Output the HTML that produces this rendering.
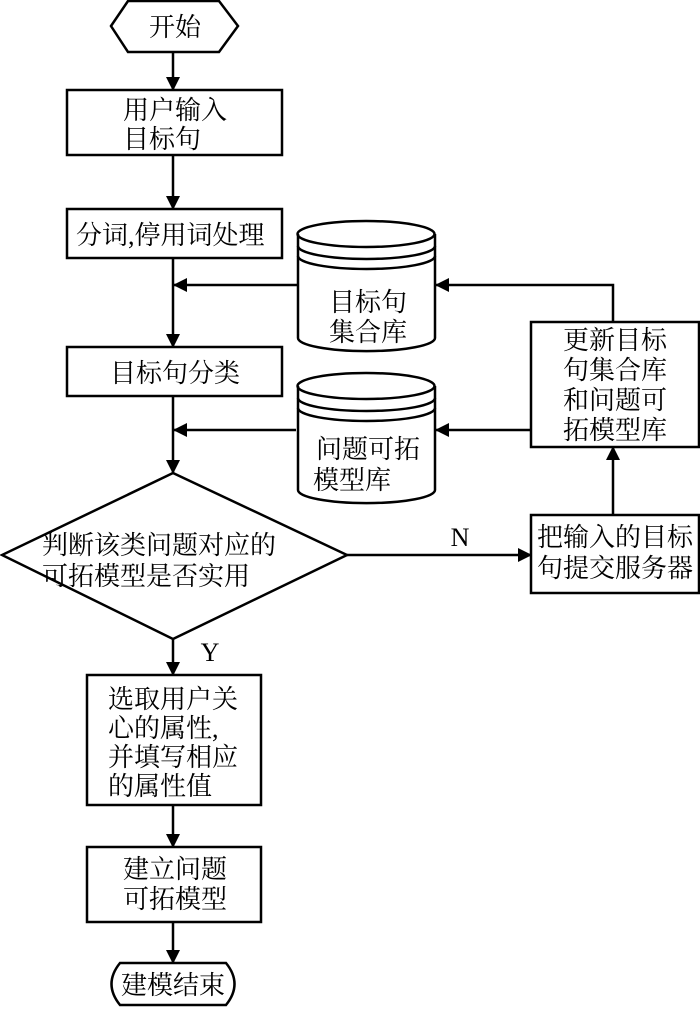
<!DOCTYPE html>
<html><head><meta charset="utf-8"><style>
html,body{margin:0;padding:0;background:#fff}
svg text{font-family:"Liberation Serif","Noto Serif CJK SC",serif;font-size:26px;fill:#000}
</style></head><body>
<svg width="700" height="1010" viewBox="0 0 700 1010" xmlns="http://www.w3.org/2000/svg">
<defs><marker id="a" markerWidth="14" markerHeight="14" refX="13" refY="7" orient="auto" markerUnits="userSpaceOnUse"><path d="M0,0 L14,7 L0,14 z" fill="#000"/></marker></defs>
<g fill="none" stroke="#000" stroke-width="2.5">
<polygon points="111,26 128,1 219,1 238,26 219,52 128,52" fill="#fff"/>
<rect x="67" y="90" width="215" height="65"/>
<rect x="67" y="209" width="215" height="49"/>
<rect x="67" y="347" width="215" height="49"/>
<polygon points="173,473 347,555 173,639 2,555"/>
<rect x="531" y="515" width="168" height="78"/>
<rect x="531" y="322" width="168" height="125"/>
<rect x="87" y="675" width="174" height="130"/>
<rect x="87" y="847" width="174" height="75"/>
<path d="M120,963 L226,963 Q243,984 226,1005 L120,1005 Q103,984 120,963 Z"/>
<path d="M298,234 L298,338 A68,13 0 0 0 435,338 L435,234"/>
<ellipse cx="366" cy="234" rx="68.5" ry="13"/>
<path d="M298,246 A68.5,13 0 0 0 435,246 M298,256 A68.5,13 0 0 0 435,256"/>
<path d="M298,386 L298,490 A68,13 0 0 0 435,490 L435,386"/>
<ellipse cx="366" cy="386" rx="68.5" ry="13"/>
<path d="M298,398 A68.5,13 0 0 0 435,398 M298,408 A68.5,13 0 0 0 435,408"/>
<path d="M173,52 L173,90" marker-end="url(#a)"/>
<path d="M173,155 L173,209" marker-end="url(#a)"/>
<path d="M173,258 L173,347" marker-end="url(#a)"/>
<path d="M173,396 L173,473" marker-end="url(#a)"/>
<path d="M298,285 L174,285" marker-end="url(#a)"/>
<path d="M296,430 L174,430" marker-end="url(#a)"/>
<path d="M347,555 L531,555" marker-end="url(#a)"/>
<path d="M613,515 L613,447" marker-end="url(#a)"/>
<path d="M613,322 L613,285 L436,285" marker-end="url(#a)"/>
<path d="M531,430 L436,430" marker-end="url(#a)"/>
<path d="M173,639 L173,675" marker-end="url(#a)"/>
<path d="M173,805 L173,847" marker-end="url(#a)"/>
<path d="M173,922 L173,963" marker-end="url(#a)"/>
</g>
<text x="175" y="36" text-anchor="middle">开始</text>
<text x="123" y="119">用户输入</text>
<text x="123" y="148">目标句</text>
<text x="76" y="244">分词,停用词处理</text>
<text x="175" y="382" text-anchor="middle">目标句分类</text>
<text x="368" y="311" text-anchor="middle">目标句</text>
<text x="368" y="341" text-anchor="middle">集合库</text>
<text x="368" y="458" text-anchor="middle">问题可拓</text>
<text x="313" y="489">模型库</text>
<text x="42" y="554">判断该类问题对应的</text>
<text x="42" y="585">可拓模型是否实用</text>
<text x="460" y="546" text-anchor="middle">N</text>
<text x="210" y="661" text-anchor="middle">Y</text>
<text x="615" y="546" text-anchor="middle">把输入的目标</text>
<text x="615" y="577" text-anchor="middle">句提交服务器</text>
<text x="615" y="349" text-anchor="middle">更新目标</text>
<text x="615" y="379" text-anchor="middle">句集合库</text>
<text x="615" y="409" text-anchor="middle">和问题可</text>
<text x="615" y="439" text-anchor="middle">拓模型库</text>
<text x="108" y="708">选取用户关</text>
<text x="108" y="737">心的属性,</text>
<text x="108" y="766">并填写相应</text>
<text x="108" y="795">的属性值</text>
<text x="175" y="878" text-anchor="middle">建立问题</text>
<text x="175" y="908" text-anchor="middle">可拓模型</text>
<text x="173" y="994" text-anchor="middle">建模结束</text>
</svg>
</body></html>
